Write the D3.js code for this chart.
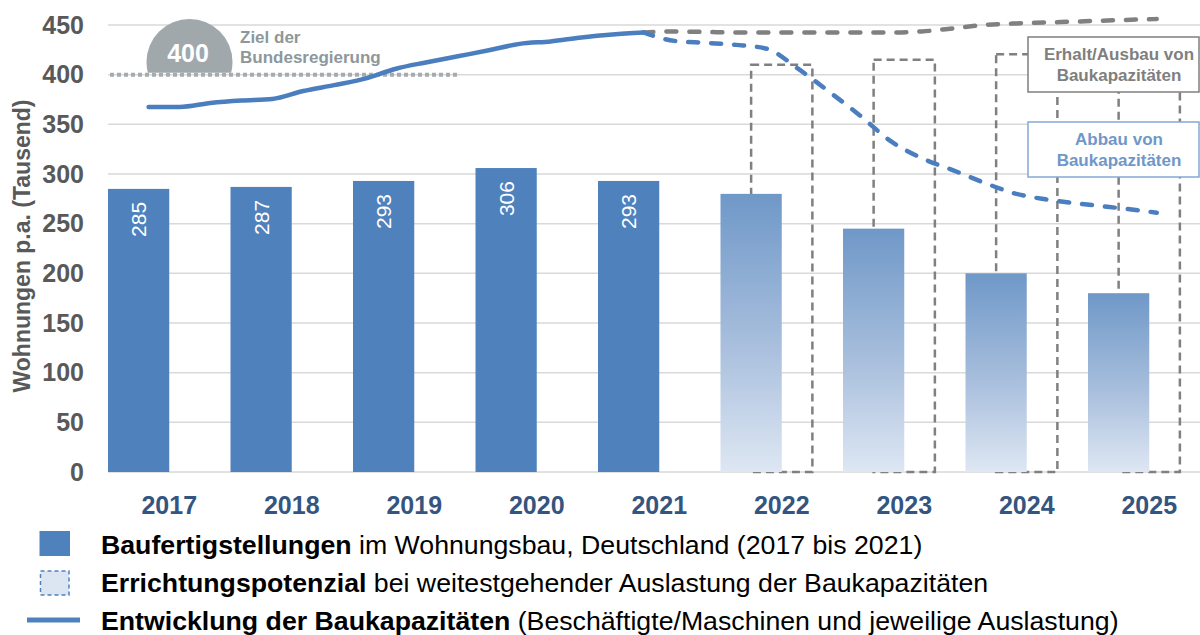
<!DOCTYPE html>
<html>
<head>
<meta charset="utf-8">
<script src="https://cdn.jsdelivr.net/npm/d3@7"></script>
<style>
  body { margin: 0; background: #fff; }
  svg { font-family: "Liberation Sans", Arial, sans-serif; display: block; }
</style>
</head>
<body>
<svg width="1200" height="635"></svg>
<script>
// Categories and values
const years = ["2017", "2018", "2019", "2020", "2021", "2022", "2023", "2024", "2025"];
const completionYears = ["2017", "2018", "2019", "2020", "2021"];
const completions = [285, 287, 293, 306, 293];
const potentialYears = ["2022", "2023", "2024", "2025"];
const potential = [280, 245, 200, 180];
const potentialMax = [410, 415, 420.5, 425];
const yTicks = [0, 50, 100, 150, 200, 250, 300, 350, 400, 450];

// Capacity development (quarterly)
const pastTime = [2017, 2017.25, 2017.5, 2017.75, 2018, 2018.25, 2018.5, 2018.75, 2019,
  2019.25, 2019.5, 2019.75, 2020, 2020.25, 2020.5, 2020.75, 2021];
const pastCapacity = [367.5, 367.5, 371.5, 374, 375.5, 383.5, 389.5, 396, 406,
  412.5, 418.5, 424.5, 431, 433.5, 437.5, 440.5, 442.5];
const futureTime = [2021, 2021.25, 2021.5, 2021.75, 2022, 2022.25, 2022.5, 2022.75, 2023,
  2023.25, 2023.5, 2023.75, 2024, 2024.25, 2024.5, 2024.75, 2025, 2025.15];
const capacityGrowth = [442.5, 443.5, 443, 442.5, 442.5, 442.5, 442.5, 442.5, 442.5,
  443.5, 446.5, 450, 451.5, 452.5, 453.5, 454.5, 455.5, 456];
const capacityDecline = [442.5, 434, 432, 430, 426, 406, 383, 359, 333,
  316, 304, 291.5, 280.5, 274.5, 270.5, 267, 263.5, 261];

const svg = d3.select("svg");
const blue = "#4F81BD";
const grey = "#808080";

const x = d3.scaleBand().domain(years).range([108, 1210.5]);
const bw = x.bandwidth();
const barW = bw * 0.5;
const y = d3.scaleLinear().domain([0, 450]).range([472, 25]);
const xTime = d3.scaleLinear().domain([2017, 2025]).range([148.6, 1138.2]);

// Gradient for the potential bars
const grad = svg.append("defs").append("linearGradient")
  .attr("id", "potGrad").attr("x1", 0).attr("y1", 0).attr("x2", 0).attr("y2", 1);
grad.append("stop").attr("offset", "0%").attr("stop-color", "#6F98C8");
grad.append("stop").attr("offset", "55%").attr("stop-color", "#A9BFDD");
grad.append("stop").attr("offset", "100%").attr("stop-color", "#DEE7F3");

// Gridlines
svg.append("g")
  .selectAll("line")
  .data(yTicks)
  .enter()
  .append("line")
  .attr("x1", 108).attr("x2", 1200)
  .attr("y1", (d) => y(d)).attr("y2", (d) => y(d))
  .attr("stroke", "#D9D9D9").attr("stroke-width", 1.5);

// Y tick labels
svg.append("g")
  .selectAll("text")
  .data(yTicks)
  .enter()
  .append("text")
  .attr("x", 84).attr("y", (d) => y(d)).attr("dy", "0.35em")
  .attr("text-anchor", "end")
  .style("font-size", "25px").style("font-weight", "bold").style("fill", "#595959")
  .text((d) => d);

// Y axis title
svg.append("text")
  .attr("transform", "translate(30, 246) rotate(-90)")
  .attr("text-anchor", "middle")
  .style("font-size", "23px").style("font-weight", "bold").style("fill", "#595959")
  .text("Wohnungen p.a. (Tausend)");

// Dashed boxes: potential at full capacity utilisation
svg.append("g")
  .selectAll("rect")
  .data(potentialYears)
  .enter()
  .append("rect")
  .attr("x", (d) => x(d) + barW / 2)
  .attr("y", (d, i) => y(potentialMax[i]))
  .attr("width", barW)
  .attr("height", (d, i) => y(0) - y(potentialMax[i]))
  .attr("fill", "none")
  .attr("stroke", grey).attr("stroke-width", 2.5).attr("stroke-dasharray", "8,5");

// Completed bars
svg.append("g")
  .selectAll("rect")
  .data(completionYears)
  .enter()
  .append("rect")
  .attr("x", (d) => x(d))
  .attr("y", (d, i) => y(completions[i]))
  .attr("width", barW)
  .attr("height", (d, i) => y(0) - y(completions[i]))
  .attr("fill", blue);

// Bar value labels
svg.append("g")
  .selectAll("text")
  .data(completionYears)
  .enter()
  .append("text")
  .attr("transform", (d, i) => `translate(${x(d) + barW / 2}, ${y(completions[i]) + 13}) rotate(-90)`)
  .attr("text-anchor", "end")
  .attr("dy", "0.36em")
  .style("font-size", "21px").style("fill", "#fff")
  .text((d, i) => completions[i]);

// Potential bars (gradient)
svg.append("g")
  .selectAll("rect")
  .data(potentialYears)
  .enter()
  .append("rect")
  .attr("x", (d) => x(d))
  .attr("y", (d, i) => y(potential[i]))
  .attr("width", barW)
  .attr("height", (d, i) => y(0) - y(potential[i]))
  .attr("fill", "url(#potGrad)");

// Target of the federal government: 400
const target = svg.append("g");
target.append("clipPath").attr("id", "badgeClip")
  .append("rect").attr("x", 140).attr("y", 0).attr("width", 100).attr("height", y(400) - 2);
target.append("circle")
  .attr("cx", 189.5).attr("cy", 62).attr("r", 43)
  .attr("fill", "#A0A8AC")
  .attr("clip-path", "url(#badgeClip)");
target.append("line")
  .attr("x1", 110).attr("x2", xTime(2019.5))
  .attr("y1", y(400)).attr("y2", y(400))
  .attr("stroke", "#A5ABAF").attr("stroke-width", 4).attr("stroke-dasharray", "4,3");
target.append("text")
  .attr("x", 188).attr("y", 62)
  .attr("text-anchor", "middle")
  .style("font-size", "25px").style("font-weight", "bold").style("fill", "#fff")
  .text("400");
target.append("text")
  .attr("x", 240).attr("y", 43)
  .style("font-size", "17px").style("font-weight", "bold").style("fill", "#8E979B")
  .text("Ziel der");
target.append("text")
  .attr("x", 240).attr("y", 63)
  .style("font-size", "17px").style("font-weight", "bold").style("fill", "#8E979B")
  .text("Bundesregierung");

// Capacity lines
const line = d3.line()
  .x((d) => xTime(d[0]))
  .y((d) => y(d[1]))
  .curve(d3.curveMonotoneX);

svg.append("path")
  .datum(futureTime.map((t, i) => [t, capacityGrowth[i]]))
  .attr("d", line)
  .attr("fill", "none").attr("stroke", grey).attr("stroke-width", 4.5)
  .attr("stroke-linecap", "round").attr("stroke-dasharray", "10,13");

svg.append("path")
  .datum(futureTime.map((t, i) => [t, capacityDecline[i]]))
  .attr("d", line)
  .attr("fill", "none").attr("stroke", "#4A7EBF").attr("stroke-width", 4.5)
  .attr("stroke-linecap", "round").attr("stroke-dasharray", "10,13");

svg.append("path")
  .datum(pastTime.map((t, i) => [t, pastCapacity[i]]))
  .attr("d", line)
  .attr("fill", "none").attr("stroke", "#4A7EBF").attr("stroke-width", 4.5)
  .attr("stroke-linecap", "round");

// Annotation boxes
const notes = [
  { lines: ["Erhalt/Ausbau von", "Baukapazitäten"], top: 37, stroke: "#7F7F7F", color: "#7F7F7F" },
  { lines: ["Abbau von", "Baukapazitäten"], top: 122, stroke: "#84A8D3", color: "#6F97C9" }
];
const note = svg.append("g")
  .selectAll("g")
  .data(notes)
  .enter()
  .append("g")
  .attr("transform", (d) => `translate(1028, ${d.top})`);
note.append("rect")
  .attr("width", 171).attr("height", 55)
  .attr("fill", "#fff")
  .attr("stroke", (d) => d.stroke).attr("stroke-width", 1.5);
note.selectAll("text")
  .data((d) => d.lines.map((l) => ({ l, color: d.color })))
  .enter()
  .append("text")
  .attr("x", 91).attr("y", (d, i) => 23 + i * 21)
  .attr("text-anchor", "middle")
  .style("font-size", "17px").style("font-weight", "bold").style("fill", (d) => d.color)
  .text((d) => d.l);

// Year labels
svg.append("g")
  .selectAll("text")
  .data(years)
  .enter()
  .append("text")
  .attr("x", (d) => x(d) + barW)
  .attr("y", 514)
  .attr("text-anchor", "middle")
  .style("font-size", "25px").style("font-weight", "bold").style("fill", "#34557F")
  .text((d) => d);

// Legend
const legendRows = [
  { bold: "Baufertigstellungen", rest: " im Wohnungsbau, Deutschland (2017 bis 2021)", y: 553.5 },
  { bold: "Errichtungspotenzial", rest: " bei weitestgehender Auslastung der Baukapazitäten", y: 591.7 },
  { bold: "Entwicklung der Baukapazitäten", rest: " (Beschäftigte/Maschinen und jeweilige Auslastung)", y: 630 }
];
const legend = svg.append("g");
legend.append("rect")
  .attr("x", 39.5).attr("y", 531).attr("width", 30.5).attr("height", 25)
  .attr("fill", blue);
legend.append("rect")
  .attr("x", 40.5).attr("y", 571).attr("width", 28.5).attr("height", 24)
  .attr("fill", "#DCE6F2")
  .attr("stroke", blue).attr("stroke-width", 1.5).attr("stroke-dasharray", "4,3");
legend.append("line")
  .attr("x1", 27).attr("x2", 80).attr("y1", 620).attr("y2", 620)
  .attr("stroke", blue).attr("stroke-width", 5);

const legendText = legend.selectAll("text")
  .data(legendRows)
  .enter()
  .append("text")
  .attr("x", 101).attr("y", (d) => d.y)
  .style("font-size", "26.7px").style("fill", "#000");
legendText.append("tspan").style("font-weight", "bold").text((d) => d.bold);
legendText.append("tspan").text((d) => d.rest);
</script>
</body>
</html>
